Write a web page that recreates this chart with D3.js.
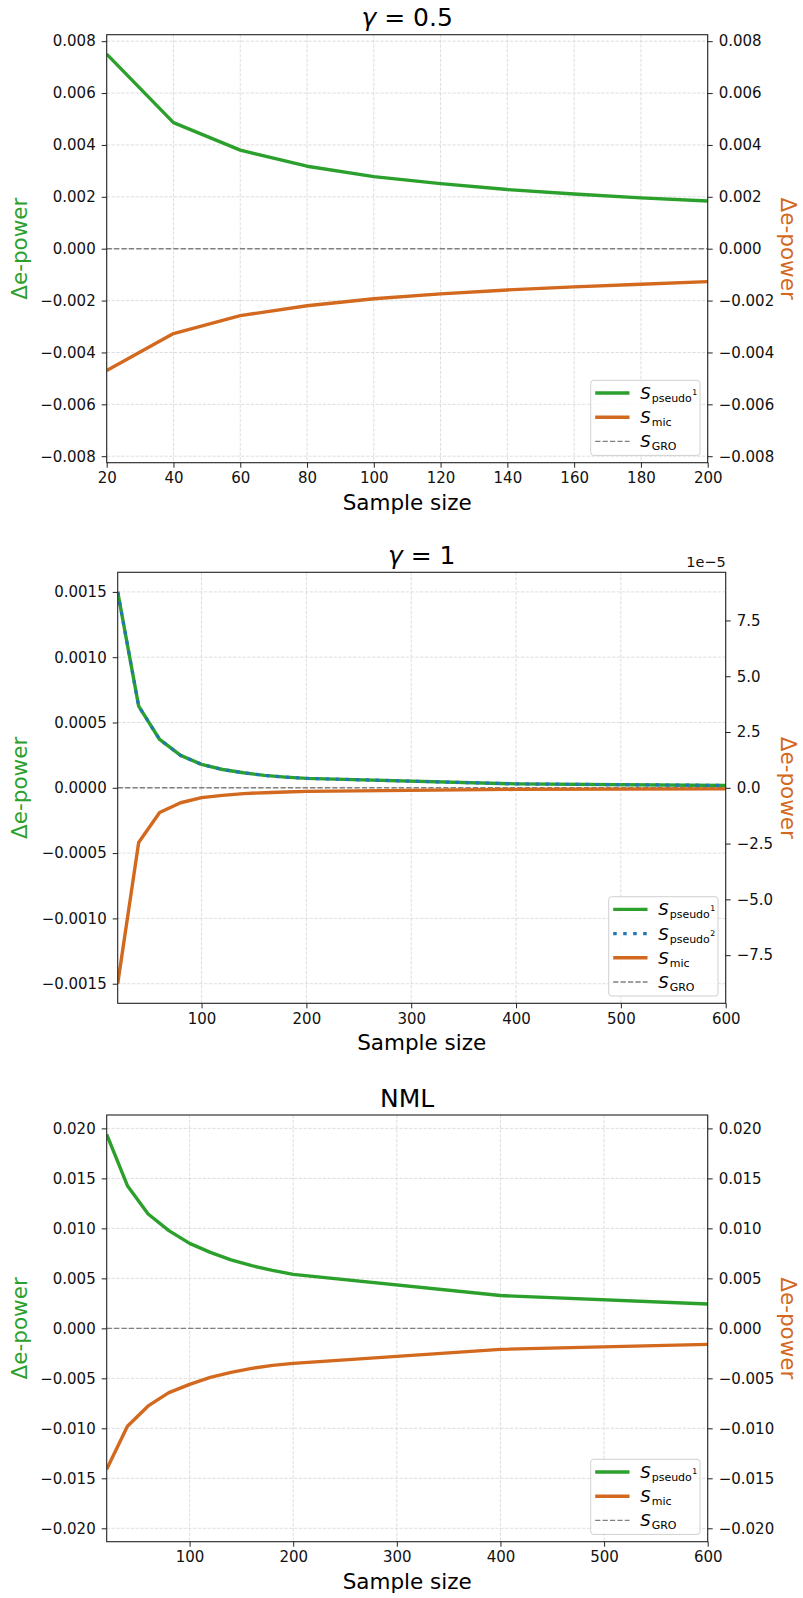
<!DOCTYPE html>
<html>
<head>
<meta charset="utf-8">
<script src="https://cdn.jsdelivr.net/npm/d3@7"></script>
<style>
body { margin: 0; background: #fff; }
text { font-family: "DejaVu Sans", sans-serif; }
</style>
</head>
<body>
<div id="chart"></div>
<script>
// gamma = 0.5
const sizesA = [20, 40, 60, 80, 100, 120, 140, 160, 180, 200];
const pseudo1A = [0.0075, 0.00486, 0.00380, 0.00318, 0.00278, 0.00251, 0.00228, 0.00211, 0.00196, 0.00184];
const micA = [-0.0047, -0.00327, -0.00258, -0.00220, -0.00193, -0.00174, -0.00159, -0.00147, -0.00137, -0.00127];

// gamma = 1 (mic is read on the right axis)
const sizesB = [20, 40, 60, 80, 100, 120, 140, 160, 180, 200, 400, 600];
const pseudo1B = [0.0015, 0.000625, 0.00037, 0.000248, 0.000179, 0.00014, 0.000115, 0.000095, 0.000082, 0.000072, 0.00003, 0.000018];
const pseudo2B = [0.0015, 0.000625, 0.00037, 0.000248, 0.000179, 0.00014, 0.000115, 0.000095, 0.000082, 0.000072, 0.00003, 0.000018];
const micB = [-8.78e-5, -2.45e-5, -1.11e-5, -0.67e-5, -0.44e-5, -0.34e-5, -0.26e-5, -0.22e-5, -0.19e-5, -0.16e-5, -0.07e-5, -0.05e-5];

// NML
const sizesC = [20, 40, 60, 80, 100, 120, 140, 160, 180, 200, 400, 600];
const pseudo1C = [0.0194, 0.01427, 0.01144, 0.00977, 0.0085, 0.0076, 0.00684, 0.00627, 0.0058, 0.0054, 0.00328, 0.00244];
const micC = [-0.0141, -0.0098, -0.00776, -0.00643, -0.0056, -0.0049, -0.0044, -0.004, -0.0037, -0.0035, -0.0021, -0.0016];

const xTicksA = [20, 40, 60, 80, 100, 120, 140, 160, 180, 200];
const xTicksB = [100, 200, 300, 400, 500, 600];
const yTicksA = [-0.008, -0.006, -0.004, -0.002, 0, 0.002, 0.004, 0.006, 0.008];
const yTicksB = [-0.0015, -0.001, -0.0005, 0, 0.0005, 0.001, 0.0015];
const yTicksBRight = [-7.5e-5, -5e-5, -2.5e-5, 0, 2.5e-5, 5e-5, 7.5e-5];
const yTicksC = [-0.02, -0.015, -0.01, -0.005, 0, 0.005, 0.01, 0.015, 0.02];

const GREEN = "#2ca02c", BLUE = "#1f77b4", ORANGE = "#d2691e", GRAY = "#808080";
const minus = s => s.replace("-", "\u2212");

const svg = d3.select("#chart").append("svg")
  .attr("width", 803).attr("height", 1598);

const drawPanel = (p) => {
  const g = svg.append("g");
  const x = d3.scaleLinear().domain([20, p.xMax]).range([p.left, p.right]);
  const yL = d3.scaleLinear().domain([-p.limL, p.limL]).range([p.bottom, p.top]);
  const yR = d3.scaleLinear().domain([-p.limR, p.limR]).range([p.bottom, p.top]);

  // grid
  g.selectAll(".gx").data(p.xTicks).enter().append("line")
    .attr("x1", d => x(d)).attr("x2", d => x(d))
    .attr("y1", p.top).attr("y2", p.bottom)
    .attr("stroke", "#d6d6d6").attr("stroke-width", 0.8).attr("stroke-dasharray", "3.3,1.5");
  g.selectAll(".gy").data(p.yTicks).enter().append("line")
    .attr("x1", p.left).attr("x2", p.right)
    .attr("y1", d => yL(d)).attr("y2", d => yL(d))
    .attr("stroke", "#d6d6d6").attr("stroke-width", 0.8).attr("stroke-dasharray", "3.3,1.5");

  // zero reference
  g.append("line")
    .attr("x1", p.left).attr("x2", p.right)
    .attr("y1", yL(0)).attr("y2", yL(0))
    .attr("stroke", GRAY).attr("stroke-width", 1.4).attr("stroke-dasharray", "5.2,2.2");

  const clipId = "clip" + p.id;
  svg.append("clipPath").attr("id", clipId).append("rect")
    .attr("x", p.left).attr("y", p.top).attr("width", p.right - p.left).attr("height", p.bottom - p.top);

  p.series.forEach(s => {
    const yS = s.axis === "right" ? yR : yL;
    const line = d3.line().x(d => x(d[0])).y(d => yS(d[1]));
    g.append("path")
      .datum(d3.zip(p.sizes, s.values))
      .attr("clip-path", `url(#${clipId})`)
      .attr("fill", "none")
      .attr("stroke", s.color)
      .attr("stroke-width", s.width)
      .attr("stroke-linejoin", "round")
      .attr("stroke-dasharray", s.dash || null)
      .attr("d", line);
  });

  // axes
  const xAxis = d3.axisBottom(x).tickValues(p.xTicks).tickSize(5).tickSizeOuter(0).tickPadding(5)
    .tickFormat(d3.format("d"));
  const yAxisL = d3.axisLeft(yL).tickValues(p.yTicks).tickSize(5).tickSizeOuter(0).tickPadding(6)
    .tickFormat(d => d === 0 ? d3.format(p.fmtL)(0) : minus(d3.format(p.fmtL)(d)));
  const yAxisR = d3.axisRight(yR).tickValues(p.yTicksR).tickSize(5).tickSizeOuter(0).tickPadding(6)
    .tickFormat(d => minus(p.fmtR(d)));

  [[xAxis, `translate(0,${p.bottom})`], [yAxisL, `translate(${p.left},0)`], [yAxisR, `translate(${p.right},0)`]]
    .forEach(([ax, tr]) => {
      const a = g.append("g").attr("transform", tr).call(ax);
      a.select(".domain").remove();
      a.selectAll("line").attr("stroke", "#222").attr("stroke-width", 1);
      a.selectAll("text").attr("font-size", 15).attr("fill", "#111").attr("font-family", "DejaVu Sans");
    });

  // frame
  g.append("rect")
    .attr("x", p.left).attr("y", p.top).attr("width", p.right - p.left).attr("height", p.bottom - p.top)
    .attr("fill", "none").attr("stroke", "#222").attr("stroke-width", 1.1);

  if (p.offsetText) {
    g.append("text").attr("x", p.right).attr("y", p.top - 5).attr("text-anchor", "end")
      .attr("font-size", 14.5).attr("fill", "#111").text(p.offsetText);
  }

  // title
  const t = g.append("text").attr("x", (p.left + p.right) / 2).attr("y", p.top - 8.5)
    .attr("text-anchor", "middle").attr("font-size", 25).attr("fill", "#000");
  if (p.titleMath) {
    t.append("tspan").attr("font-style", "italic").text("\u03b3");
    t.append("tspan").text(" = " + p.titleMath);
  } else {
    t.text(p.title);
  }

  // axis labels
  g.append("text").attr("x", (p.left + p.right) / 2).attr("y", p.bottom + 47)
    .attr("text-anchor", "middle").attr("font-size", 21.5).attr("fill", "#000").text("Sample size");
  const cy = (p.top + p.bottom) / 2;
  g.append("text").attr("transform", `translate(27,${cy}) rotate(-90)`)
    .attr("text-anchor", "middle").attr("font-size", 21.5).attr("fill", GREEN).text("\u0394e-power");
  g.append("text").attr("transform", `translate(781,${cy}) rotate(90)`)
    .attr("text-anchor", "middle").attr("font-size", 21.5).attr("fill", ORANGE).text("\u0394e-power");

  // legend
  const rows = p.legend.length;
  const lw = 109.3, lh = rows * 24.2 + 2.5;
  const lx = p.right - 7.7 - lw, ly = p.bottom - 7.3 - lh;
  const lg = g.append("g");
  lg.append("rect").attr("x", lx).attr("y", ly).attr("width", lw).attr("height", lh)
    .attr("rx", 3).attr("fill", "#fff").attr("fill-opacity", 0.8)
    .attr("stroke", "#d0d0d0").attr("stroke-width", 1);
  p.legend.forEach((e, i) => {
    const ry = ly + 12.7 + i * 24.2;
    lg.append("line").attr("x1", lx + 4.5).attr("x2", lx + 38.8).attr("y1", ry).attr("y2", ry)
      .attr("stroke", e.color).attr("stroke-width", e.width).attr("stroke-dasharray", e.dash || null);
    const tx = lg.append("text").attr("x", lx + 49.5).attr("y", ry + 6).attr("fill", "#000");
    tx.append("tspan").attr("font-size", 16.5).attr("font-style", "italic").text("S");
    tx.append("tspan").attr("font-size", 11).attr("dy", 3).attr("dx", 1).text(e.sub);
    if (e.sup) tx.append("tspan").attr("font-size", 7.8).attr("dy", -7).attr("dx", 0.5).text(e.sup);
  });
};

const entP1 = { sub: "pseudo", sup: "1", color: GREEN, width: 3.4 };
const entP2 = { sub: "pseudo", sup: "2", color: BLUE, width: 3.2, dash: "3.5,6.5" };
const entMic = { sub: "mic", color: ORANGE, width: 3.4 };
const entGro = { sub: "GRO", color: GRAY, width: 1.4, dash: "5.2,2.2" };

const limA = 1.1 * d3.max(pseudo1A.concat(micA), Math.abs);
drawPanel({
  id: "A", left: 106.7, right: 707.7, top: 34.7, bottom: 462.7, xMax: 200,
  sizes: sizesA, xTicks: xTicksA, yTicks: yTicksA, yTicksR: yTicksA,
  limL: limA, limR: limA, fmtL: ".3f", fmtR: d3.format(".3f"),
  titleMath: "0.5",
  series: [
    { values: pseudo1A, color: GREEN, width: 3.4 },
    { values: micA, color: ORANGE, width: 3.4 }
  ],
  legend: [entP1, entMic, entGro]
});

drawPanel({
  id: "B", left: 117.7, right: 725.7, top: 572.3, bottom: 1003.3, xMax: 600,
  sizes: sizesB, xTicks: xTicksB, yTicks: yTicksB, yTicksR: yTicksBRight,
  limL: 1.1 * d3.max(pseudo1B, Math.abs), limR: 1.1 * d3.max(micB, Math.abs),
  fmtL: ".4f", fmtR: d => d3.format(".1f")(d / 1e-5),
  offsetText: "1e\u22125",
  titleMath: "1",
  series: [
    { values: pseudo1B, color: GREEN, width: 3.4 },
    { values: pseudo2B, color: BLUE, width: 3.2, dash: "3.5,6.5" },
    { values: micB, color: ORANGE, width: 3.4, axis: "right" }
  ],
  legend: [entP1, entP2, entMic, entGro]
});

const limC = 1.1 * d3.max(pseudo1C.concat(micC), Math.abs);
drawPanel({
  id: "C", left: 106.7, right: 707.7, top: 1115, bottom: 1541.7, xMax: 600,
  sizes: sizesC, xTicks: xTicksB, yTicks: yTicksC, yTicksR: yTicksC,
  limL: limC, limR: limC, fmtL: ".3f", fmtR: d3.format(".3f"),
  title: "NML",
  series: [
    { values: pseudo1C, color: GREEN, width: 3.4 },
    { values: micC, color: ORANGE, width: 3.4 }
  ],
  legend: [entP1, entMic, entGro]
});
</script>
</body>
</html>
